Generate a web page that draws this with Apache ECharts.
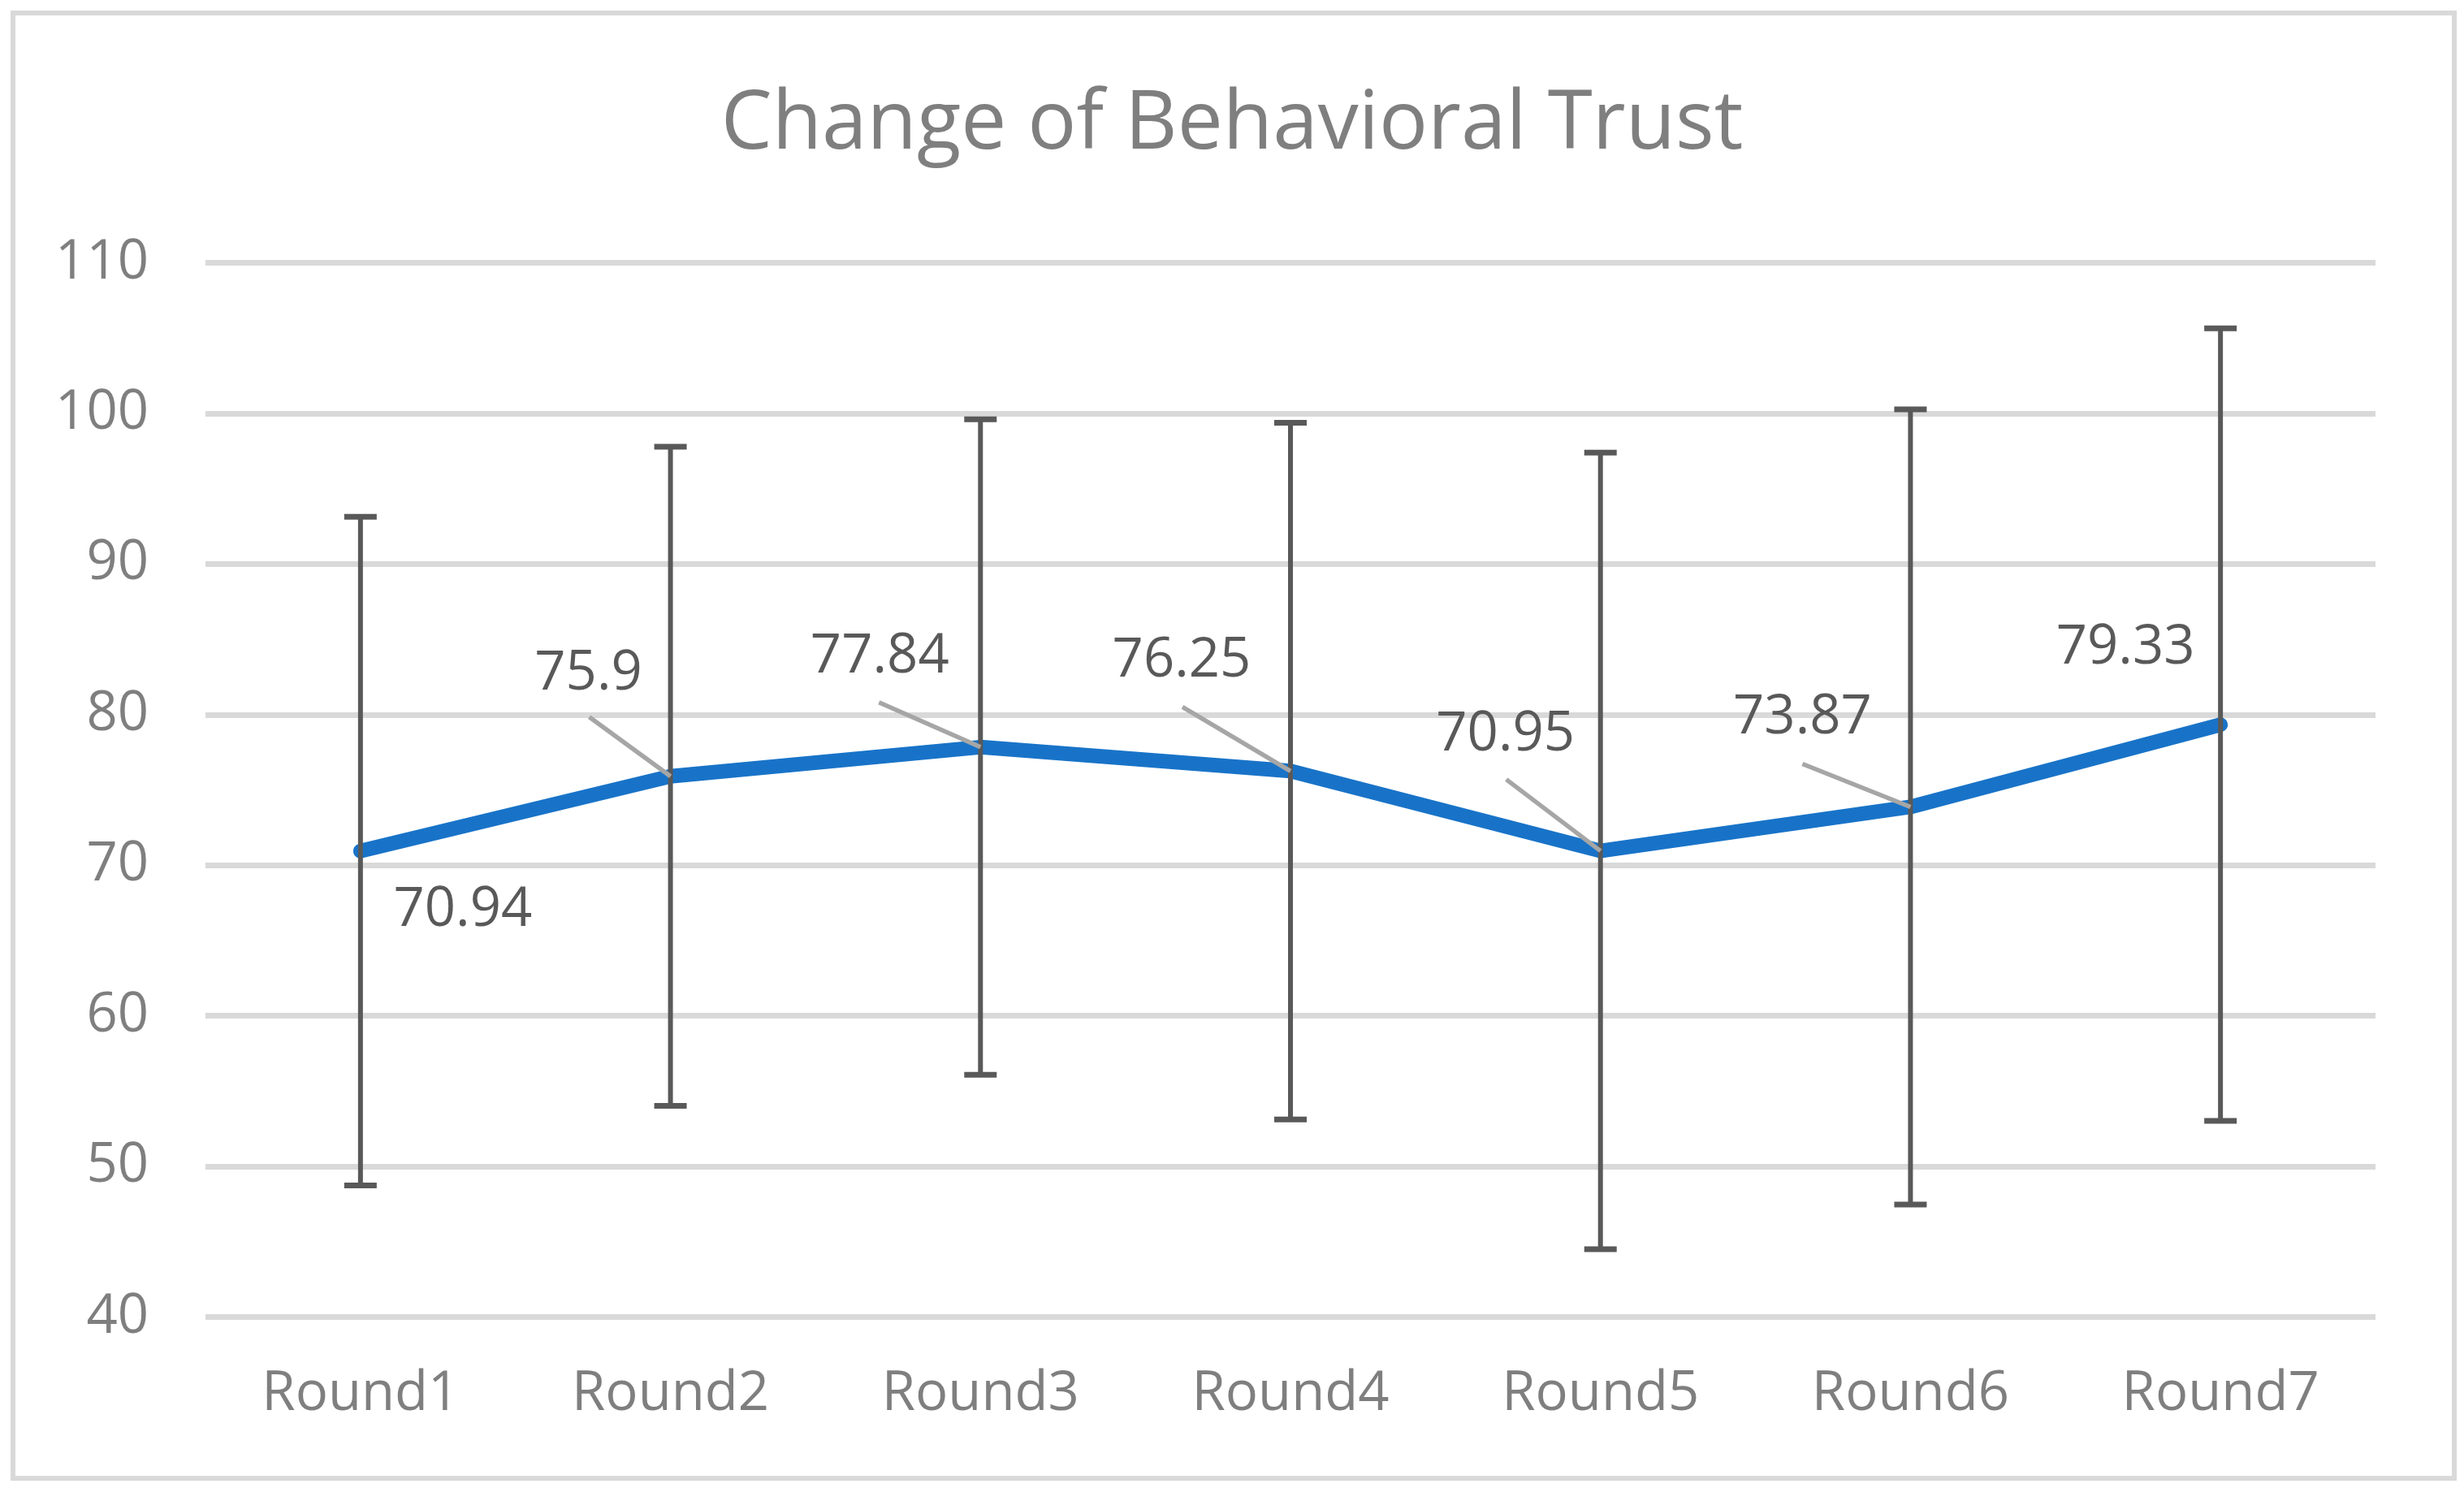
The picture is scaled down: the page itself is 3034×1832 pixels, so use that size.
<!DOCTYPE html>
<html>
<head>
<meta charset="utf-8">
<script src="https://cdn.jsdelivr.net/npm/echarts@6/dist/echarts.min.js"></script>
<style>
html,body{margin:0;padding:0;background:#fff;}
#chart{width:3034px;height:1832px;}
</style>
</head>
<body>
<div id="chart"></div>
<script>
// ---- data ----
const categories = ['Round1','Round2','Round3','Round4','Round5','Round6','Round7'];
const means = [70.94, 75.9, 77.84, 76.25, 70.95, 73.87, 79.33];
const sdErrors = [22.2, 21.88, 21.76, 23.13, 26.45, 26.4, 26.31];
const yTicks = { min: 40, max: 110, interval: 10 };
const titleText = 'Change of Behavioral Trust';

// ---- layout (label placement relative to each point, in px) ----
const labelOffsets = [[126,73],[-101,-126],[-124,-111],[-134,-135],[-117,-143],[-133,-110],[-117,-94]];
const leaderEnds = [null,[-100,-73],[-125,-55],[-133,-79],[-116,-88],[-133,-53],null];

const FONT = '"Open Sans", "Noto Sans", sans-serif';
const chart = echarts.init(document.getElementById('chart'), null, {renderer:'canvas'});

const errData = categories.map((c,i)=>[i, means[i]-sdErrors[i], means[i]+sdErrors[i]]);
const lblData = categories.map((c,i)=>[i, means[i]]);

chart.setOption({
  animation: false,
  backgroundColor: '#ffffff',
  title: {
    text: titleText,
    left: 'center',
    top: 100,
    textStyle: { fontFamily: FONT, fontSize: 100, fontWeight: 'normal', color: '#7f7f7f' }
  },
  graphic: [{
    type: 'rect', left: 13, top: 13, z: -10,
    shape: { x: 0, y: 0, width: 3006, height: 1804 },
    style: { fill: 'none', stroke: '#d9d9d9', lineWidth: 6 }
  }],
  grid: { left: 253, right: 109, top: 323.5, bottom: 210.5, containLabel: false },
  xAxis: {
    type: 'category',
    data: categories,
    boundaryGap: true,
    axisLine: { show: false },
    axisTick: { show: false },
    axisLabel: { fontFamily: FONT, fontSize: 67, color: '#7f7f7f', margin: 62 }
  },
  yAxis: {
    type: 'value',
    min: yTicks.min, max: yTicks.max, interval: yTicks.interval,
    axisLine: { show: false },
    axisTick: { show: false },
    axisLabel: { fontFamily: FONT, fontSize: 67, color: '#7f7f7f', margin: 70 },
    splitLine: { lineStyle: { color: '#d9d9d9', width: 7 } }
  },
  series: [
    {
      type: 'line',
      data: means,
      symbol: 'none',
      z: 2,
      lineStyle: { color: '#1873C8', width: 18, cap: 'round', join: 'round' }
    },
    {
      type: 'custom',
      z: 3,
      data: errData,
      encode: { x: 0, y: [1, 2] },
      renderItem: function (params, api) {
        const i = api.value(0);
        const pLo = api.coord([i, api.value(1)]);
        const pHi = api.coord([i, api.value(2)]);
        const hw = 20, st = '#595959';
        return {
          type: 'group',
          children: [
            { type: 'line', shape: { x1: pLo[0], y1: pLo[1], x2: pHi[0], y2: pHi[1] }, style: { stroke: st, lineWidth: 6 } },
            { type: 'line', shape: { x1: pHi[0]-hw, y1: pHi[1], x2: pHi[0]+hw, y2: pHi[1] }, style: { stroke: st, lineWidth: 7 } },
            { type: 'line', shape: { x1: pLo[0]-hw, y1: pLo[1], x2: pLo[0]+hw, y2: pLo[1] }, style: { stroke: st, lineWidth: 7 } }
          ]
        };
      }
    },
    {
      type: 'custom',
      z: 4,
      data: lblData,
      encode: { x: 0, y: 1 },
      renderItem: function (params, api) {
        const i = api.value(0);
        const v = api.value(1);
        const p = api.coord([i, v]);
        const off = labelOffsets[i];
        const children = [];
        const le = leaderEnds[i];
        if (le) {
          children.push({ type: 'line', shape: { x1: p[0], y1: p[1], x2: p[0]+le[0], y2: p[1]+le[1] }, style: { stroke: '#a6a6a6', lineWidth: 5.5 } });
        }
        children.push({
          type: 'text', x: p[0]+off[0], y: p[1]+off[1],
          style: { text: String(means[i]), fill: '#595959', fontFamily: FONT, fontSize: 67, align: 'center', verticalAlign: 'middle' }
        });
        return { type: 'group', children: children };
      }
    }
  ]
});
</script>
</body>
</html>
